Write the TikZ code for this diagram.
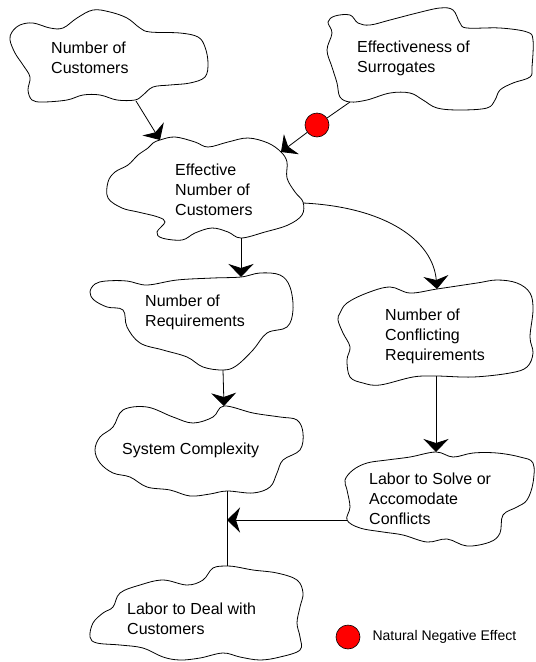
\documentclass[tikz,border=0pt]{standalone}
\usepackage{fontspec}
\setmainfont{Liberation Sans}
\usetikzlibrary{positioning,calc,arrows.meta}
\tikzset{every picture/.style={font issue=\fontsize{16}{20}},
            font issue/.style={execute at begin picture={#1\selectfont}}
        }

\begin{document}
\begin{tikzpicture}[x=1pt,y=-1pt,
    blob/.style={draw,line width=0.8pt},
    lbl/.style={anchor=west,align=left,inner sep=0pt},
    link/.style={line width=0.8pt,-{Stealth[length=13pt,width=25pt,inset=4pt]}},
    negdot/.style={circle,draw,fill=red,minimum size=24pt,inner sep=0pt,line width=0.6pt}]
      \useasboundingbox (0,0) rectangle (536,662);

      % 雲の形
      \draw[blob] plot[smooth cycle,tension=0.6] coordinates {(12,32) (20,25) (33,23) (50,28) (63,28) (77,18) (93,10) (110,12) (127,18) (140,28) (150,32) (180,33) (198,37) (205,47) (208,63) (205,77) (190,83) (170,85) (153,87) (143,95) (135,100) (117,100) (100,95) (83,95) (67,100) (43,102) (32,100) (28,90) (30,77) (23,65) (15,53) (10,40)};
      \draw[blob] plot[smooth cycle,tension=0.6] coordinates {(328,22) (335,16) (350,15) (358,23) (370,25) (390,20) (417,13) (440,8) (453,10) (460,23) (467,28) (500,28) (527,32) (533,40) (532,67) (530,77) (513,83) (500,90) (495,100) (487,108) (460,110) (437,108) (423,100) (410,93) (390,93) (367,100) (350,102) (340,97) (337,83) (332,67) (327,50) (332,33)};
      \draw[blob] plot[smooth cycle,tension=0.6] coordinates {(153,143) (160,140) (175,137) (195,142) (208,147) (228,142) (248,138) (268,143) (281,152) (287,162) (287,178) (295,192) (303,202) (302,215) (288,225) (265,232) (241,238) (228,232) (212,228) (195,233) (182,240) (162,238) (157,232) (165,222) (158,217) (138,212) (122,208) (108,198) (108,182) (115,172) (128,165) (138,155) (148,148)};
      \draw[blob] plot[smooth cycle,tension=0.6] coordinates {(95,284) (106,281) (127,281) (147,285) (177,280) (213,278) (241,277) (260,273) (280,275) (290,287) (293,310) (287,327) (267,333) (253,350) (236,366) (223,370) (203,367) (187,357) (163,350) (140,343) (127,327) (123,310) (107,307) (94,300) (90,292)};
      \draw[blob] plot[smooth cycle,tension=0.6] coordinates {(123,410) (147,407) (173,417) (193,423) (213,417) (224,406) (253,413) (280,417) (297,420) (303,433) (300,450) (283,460) (277,473) (270,487) (253,493) (227,491) (210,494) (190,496) (170,490) (147,487) (130,477) (113,473) (100,463) (95,450) (100,437) (113,427)};
      \draw[blob] plot[smooth cycle,tension=0.6] coordinates {(340,313) (347,303) (367,293) (390,287) (410,293) (437,289) (477,283) (497,280) (517,283) (530,293) (533,310) (530,337) (533,353) (527,367) (510,373) (473,377) (436,376) (413,377) (380,385) (363,383) (350,377) (347,360) (350,347) (343,333) (338,320)};
      \draw[blob] plot[smooth cycle,tension=0.6] coordinates {(353,470) (367,463) (387,460) (410,457) (436,452) (453,457) (473,453) (497,453) (520,457) (533,463) (533,483) (527,500) (517,507) (503,515) (500,533) (490,542) (467,546) (447,539) (427,542) (403,535) (383,532) (360,528) (347,520) (350,507) (347,490) (345,480)};
      \draw[blob] plot[smooth cycle,tension=0.6] coordinates {(227,566) (213,568) (203,580) (187,585) (163,580) (140,585) (120,593) (113,607) (103,613) (93,623) (90,637) (97,643) (120,645) (143,648) (163,657) (180,660) (200,658) (223,653) (240,657) (260,660) (280,657) (300,650) (300,637) (297,623) (300,607) (303,593) (297,580) (277,573) (253,570) (237,567)};

      % ラベル
      \node[lbl] (nc) at (51,58) {Number of\\Customers};
      \node[lbl] (es) at (357,58) {Effectiveness of\\Surrogates};
      \node[lbl] (enc) at (175,190) {Effective\\Number of\\Customers};
      \node[lbl] (nr) at (145,312) {Number of\\Requirements};
      \node[lbl] (sc) at (122,450) {System Complexity};
      \node[lbl] (ncr) at (385,336) {Number of\\Conflicting\\Requirements};
      \node[lbl] (ls) at (369,499) {Labor to Solve or\\Accomodate\\Conflicts};
      \node[lbl] (ld) at (127,619) {Labor to Deal with\\Customers};

      % 接続点
      \coordinate (nc-s) at (136,101);
      \coordinate (enc-nw) at (160,140);
      \coordinate (es-s) at (350,102);
      \coordinate (enc-ne) at (281,152);
      \coordinate (enc-s) at (241,238);
      \coordinate (enc-e) at (303,203);
      \coordinate (nr-n) at (241,277);
      \coordinate (nr-s) at (223,370);
      \coordinate (ncr-n) at (437,289);
      \coordinate (ncr-s) at (436,376);
      \coordinate (sc-n) at (224,406);
      \coordinate (sc-s) at (227,491);
      \coordinate (ls-n) at (436,452);
      \coordinate (ls-w) at (347,520);
      \coordinate (ld-n) at (227,566);
      \coordinate (jn) at (227,520);
      \node[negdot] (neg) at (317,125) {};

      % 矢印
      \draw[link] (nc-s) -- (enc-nw);
      \draw[line width=0.8pt] (es-s) -- (neg);
      \draw[link] (neg) -- (enc-ne);
      \draw[link] (enc-s) -- (nr-n);
      \draw[link] (enc-e) .. controls (385,207) and (433,240) .. (ncr-n);
      \draw[link] (nr-s) -- (sc-n);
      \draw[link] (ncr-s) -- (ls-n);
      \draw[line width=0.8pt] (sc-s) -- (ld-n);
      \draw[link] (ls-w) -- (jn);

      % 凡例
      \node[negdot] (key) at (348,637) {};
      \node[lbl,font=\fontsize{14}{17}\selectfont,right=12pt of key] (keytxt) {Natural Negative Effect};
    \end{tikzpicture}
\end{document}
